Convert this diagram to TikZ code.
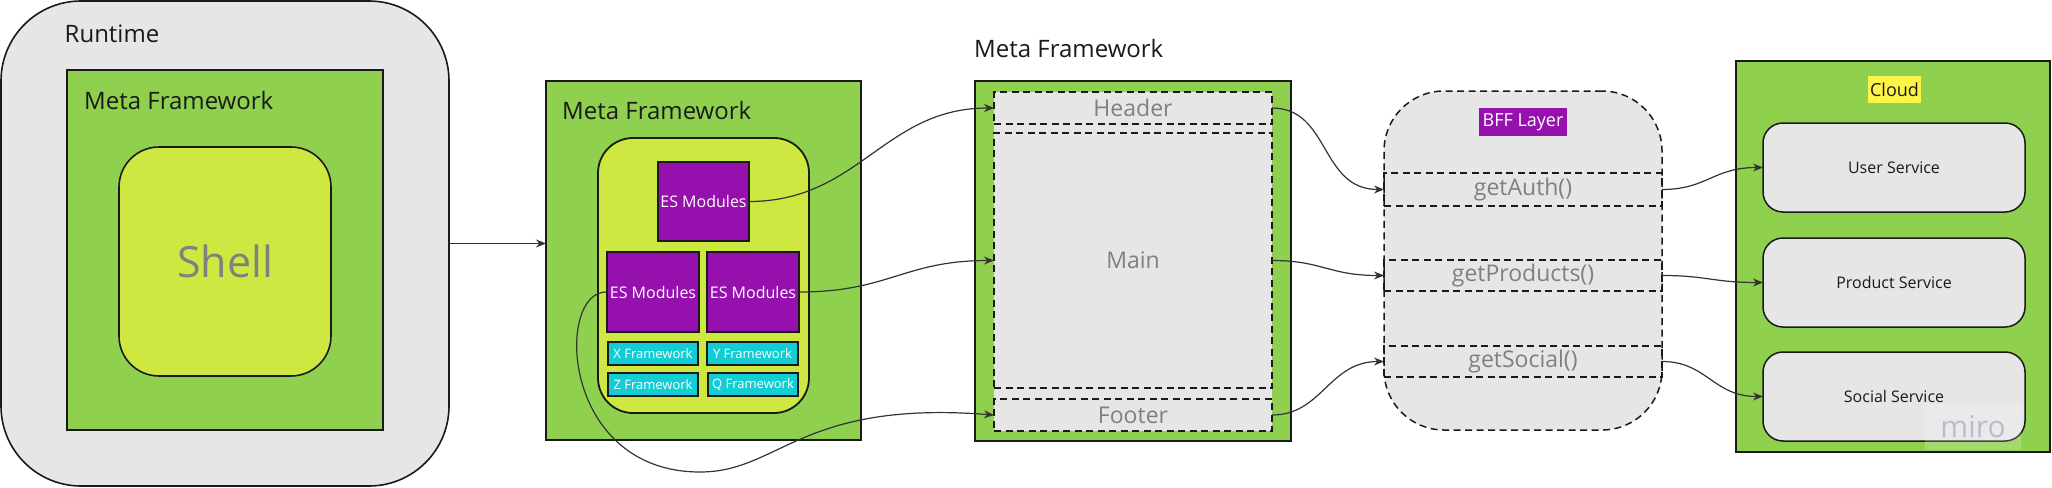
\documentclass[tikz,border=0pt]{standalone}
\usepackage{fontspec}
\setmainfont{Open Sans}
\usetikzlibrary{arrows.meta}
\definecolor{dark}{HTML}{1A1A1A}
\definecolor{lnk}{HTML}{333333}
\definecolor{rtgray}{HTML}{E6E6E6}
\definecolor{mgreen}{HTML}{8FD14F}
\definecolor{shellc}{HTML}{CEE741}
\definecolor{purp}{HTML}{9510AC}
\definecolor{cyanc}{HTML}{12CDD4}
\definecolor{txtgray}{HTML}{808080}
\definecolor{yel}{HTML}{FEF445}
\definecolor{mirot}{HTML}{BDBBD0}
\begin{document}
\begin{tikzpicture}[x=1pt,y=-1pt,
  wh/.style 2 args={minimum width=#1pt, minimum height=#2pt, inner sep=0pt, outer sep=0pt},
  greenbox/.style={draw=dark, line width=2.6pt, fill=mgreen},
  esbox/.style={draw=dark, line width=2pt, fill=purp, text=white, font=\fontsize{16}{18}\selectfont},
  fwbox/.style={draw=dark, line width=2pt, fill=cyanc, text=white, font=\fontsize{13}{15}\selectfont},
  dashbox/.style={draw=dark, line width=1.5pt, dash pattern=on 7pt off 4.5pt, text=txtgray, font=\fontsize{23}{26}\selectfont},
  svcbox/.style={draw=dark, line width=1.5pt, fill=rtgray, rounded corners=20pt, text=dark, font=\fontsize{16}{18}\selectfont},
  lbl/.style={inner sep=0pt, text=dark, font=\fontsize{24}{28}\selectfont},
  conn/.style={draw=lnk, line width=1.2pt, -{Stealth[length=10pt,width=8pt]}}
]
\useasboundingbox (0,0) rectangle (2052,487);

% Runtime
\node[wh={448}{485}, draw=dark, line width=1.6pt, fill=rtgray, rounded corners=80pt] (rt) at (225,243.5) {};
\node[lbl] (rtlbl) at (112,34) {Runtime};
\node[wh={316}{360}, greenbox] (mf1) at (225,250) {};
\node[lbl, anchor=west] (mf1lbl) at (84,100) {Meta Framework};
\node[wh={212}{229}, draw=dark, line width=1.6pt, fill=shellc, rounded corners=40pt, text=txtgray, font=\fontsize{43}{48}\selectfont] (shell) at (225,261.5) {Shell};

% Meta Framework 2
\node[wh={315}{359}, greenbox] (mf2) at (703.5,260.5) {};
\node[lbl, anchor=west] (mf2lbl) at (562,110) {Meta Framework};
\node[wh={211}{275}, draw=dark, line width=1.8pt, fill=shellc, rounded corners=35pt] (inner) at (703.5,275.5) {};
\node[wh={91}{79}, esbox] (est) at (703.5,201.5) {ES Modules};
\node[wh={92}{80}, esbox] (esl) at (653,292) {ES Modules};
\node[wh={92}{80}, esbox] (esr) at (753,292) {ES Modules};
\node[wh={90}{23}, fwbox] (xf) at (653,353.5) {X Framework};
\node[wh={91}{23}, fwbox] (yf) at (752.5,353.5) {Y Framework};
\node[wh={90}{23}, fwbox] (zf) at (653,384.5) {Z Framework};
\node[wh={90}{23}, fwbox] (qf) at (753,384.5) {Q Framework};

% Meta Framework 3
\node[lbl, anchor=west] (mf3lbl) at (974,48) {Meta Framework};
\node[wh={316}{360}, greenbox] (mf3) at (1133,261) {};
\node[wh={278}{339}, fill=rtgray] (mf3fill) at (1133,261.5) {};
\node[wh={278}{32}, dashbox] (hdr) at (1133,108) {Header};
\node[wh={278}{255}, dashbox] (main) at (1133,260.5) {Main};
\node[wh={278}{32}, dashbox] (ftr) at (1133,415) {Footer};

% BFF
\node[wh={278}{339}, draw=dark, line width=1.5pt, dash pattern=on 7pt off 4.5pt, fill=rtgray, rounded corners=60pt] (bff) at (1523,260.5) {};
\node[wh={88}{28}, fill=purp, text=white, font=\fontsize{18}{20}\selectfont] (bfflbl) at (1523,122) {BFF Layer};
\node[wh={278}{33}, dashbox] (auth) at (1523,189.5) {getAuth()};
\node[wh={278}{31}, dashbox] (prod) at (1523,275.5) {getProducts()};
\node[wh={278}{31}, dashbox] (soc) at (1523,361.5) {getSocial()};

% Cloud
\node[wh={314}{391}, greenbox] (cloud) at (1893,256.5) {};
\node[wh={53}{27}, fill=yel, text=dark, font=\fontsize{18}{20}\selectfont] (cloudlbl) at (1894.5,89.5) {Cloud};
\node[wh={262}{89}, svcbox] (usr) at (1894,167.5) {User Service};
\node[wh={262}{89}, svcbox] (psvc) at (1894,282.5) {Product Service};
\node[wh={262}{89}, svcbox] (ssvc) at (1894,396.5) {Social Service};
\node[wh={96}{46}, fill=white, fill opacity=0.18, text opacity=1, text=mirot, font=\fontsize{30}{32}\selectfont] (miro) at (1973,427) {miro};

% connectors
\draw[conn] (rt.east) -- (mf2.west |- rt.east);
\draw[conn] (est.east) .. controls +(110,0) and +(-110,0) .. (hdr.west);
\draw[conn] (esr.east) .. controls +(90,0) and +(-90,0) .. (main.west);
\draw[conn] (esl.west) .. controls (555,290) and (560,472) .. (700,472) .. controls (780,472) and (800,400) .. (ftr.west);
\draw[conn] (hdr.east) .. controls +(58,0) and +(-64,0) .. (auth.west);
\draw[conn] (main.east) .. controls +(50,0) and +(-55,0) .. (prod.west);
\draw[conn] (ftr.east) .. controls +(50,0) and +(-55,0) .. (soc.west);
\draw[conn] (auth.east) .. controls +(45,0) and +(-50,0) .. (usr.west);
\draw[conn] (prod.east) .. controls +(45,0) and +(-50,0) .. (psvc.west);
\draw[conn] (soc.east) .. controls +(45,0) and +(-50,0) .. (ssvc.west);
\end{tikzpicture}
\end{document}
